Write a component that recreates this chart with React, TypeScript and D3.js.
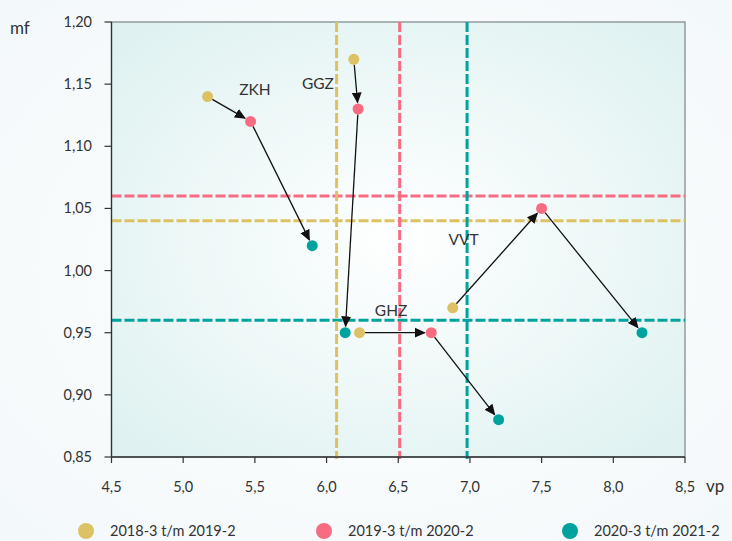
import React from "react";
import * as d3 from "d3";

const sectors = ["ZKH", "GGZ", "GHZ", "VVT"];
const periods = ["2018-3 t/m 2019-2", "2019-3 t/m 2020-2", "2020-3 t/m 2021-2"];
const colors = ["#dcc265", "#f86c83", "#00a29d"];
// vp values per period, in sector order
const vp2019 = [5.17, 6.19, 6.23, 6.88];
const vp2020 = [5.47, 6.22, 6.73, 7.5];
const vp2021 = [5.9, 6.13, 7.2, 8.2];
// mf values per period
const mf2019 = [1.14, 1.17, 0.95, 0.97];
const mf2020 = [1.12, 1.13, 0.95, 1.05];
const mf2021 = [1.02, 0.95, 0.88, 0.95];
// reference (average) lines per period
const refVp = [6.07, 6.51, 6.98];
const refMf = [1.04, 1.06, 0.96];
// label anchor positions (data coords)
const labelVp = [5.5, 5.94, 6.45, 6.955];
const labelMf = [1.141, 1.146, 0.9634, 1.0206];
const xTicks = [4.5, 5.0, 5.5, 6.0, 6.5, 7.0, 7.5, 8.0, 8.5];
const yTicks = [0.85, 0.9, 0.95, 1.0, 1.05, 1.1, 1.15, 1.2];

const W = 732, H = 541;
const L = 111.5, R = 685, T = 22, B = 457;
const FONT = "Lato, 'Open Sans', sans-serif";

export default function App() {
  const x = d3.scaleLinear().domain([4.5, 8.5]).range([L, R]);
  const y = d3.scaleLinear().domain([0.85, 1.2]).range([B, T]);
  const fmt = (v: number, d: number) => v.toFixed(d).replace(".", ",");
  const vps = [vp2019, vp2020, vp2021];
  const mfs = [mf2019, mf2020, mf2021];
  const r = 5.5;

  const arrows: any[] = [];
  sectors.forEach((s, i) => {
    for (let p = 0; p < 2; p++) {
      const x1 = x(vps[p][i]), y1 = y(mfs[p][i]);
      const x2 = x(vps[p + 1][i]), y2 = y(mfs[p + 1][i]);
      const dx = x2 - x1, dy = y2 - y1;
      const len = Math.hypot(dx, dy);
      const ux = dx / len, uy = dy / len;
      arrows.push(
        <line key={s + p} x1={x1 + ux * r} y1={y1 + uy * r} x2={x2 - ux * (r + 1)} y2={y2 - uy * (r + 1)}
          stroke="#111" strokeWidth={1.3} markerEnd="url(#arr)" />
      );
    }
  });

  return (
    <svg width={W} height={H} style={{ display: "block", position: "absolute", left: 0, top: 0, background: "#f4f9fa" }}>
      <defs>
        <radialGradient id="bg" cx="50%" cy="50%" r="65%">
          <stop offset="0%" stopColor="#ffffff" />
          <stop offset="100%" stopColor="#dff2f1" />
        </radialGradient>
        <radialGradient id="page" cx="50%" cy="50%" r="70%">
          <stop offset="0%" stopColor="#ffffff" />
          <stop offset="100%" stopColor="#f3f8fa" />
        </radialGradient>
        <marker id="arr" viewBox="0 0 10 10" refX="9" refY="5" markerWidth="11" markerHeight="11" markerUnits="userSpaceOnUse" orient="auto">
          <path d="M0,0.5 L10,5 L0,9.5 Z" fill="#111" />
        </marker>
      </defs>
      <rect x={0} y={0} width={W} height={H} fill="url(#page)" />
      <rect x={L} y={T} width={R - L} height={B - T} fill="url(#bg)" stroke="#7b8585" strokeWidth={1.2} />

      {/* reference lines */}
      {refMf.map((v, i) => (
        <line key={"h" + i} x1={L} x2={R} y1={y(v)} y2={y(v)} stroke={colors[i]} strokeWidth={3} strokeDasharray="10,3" />
      ))}
      {refVp.map((v, i) => (
        <line key={"v" + i} x1={x(v)} x2={x(v)} y1={T} y2={B + 2} stroke={colors[i]} strokeWidth={3} strokeDasharray="10,3" />
      ))}

      {/* axes */}
      <line x1={L} x2={L} y1={T} y2={B} stroke="#333" strokeWidth={1.3} />
      <line x1={L} x2={R} y1={B} y2={B} stroke="#333" strokeWidth={1.3} />
      {yTicks.map(t => (
        <g key={"yt" + t}>
          <line x1={L - 7} x2={L} y1={y(t)} y2={y(t)} stroke="#333" strokeWidth={1.2} />
          <text x={92} y={y(t) + 5} textAnchor="end" fontSize={14.5} fill="#333" fontFamily={FONT}>{fmt(t, 2)}</text>
        </g>
      ))}
      {xTicks.map(t => (
        <g key={"xt" + t}>
          <line x1={x(t)} x2={x(t)} y1={B} y2={B + 6} stroke="#333" strokeWidth={1.2} />
          <text x={x(t)} y={492} textAnchor="middle" fontSize={14.5} fill="#333" fontFamily={FONT}>{fmt(t, 1)}</text>
        </g>
      ))}
      <text x={10} y={34} fontSize={17} fill="#333" fontFamily={FONT}>mf</text>
      <text x={706} y={492} fontSize={17} fill="#333" fontFamily={FONT}>vp</text>

      {arrows}

      {/* points */}
      {vps.map((arr, p) => arr.map((v, i) => (
        <circle key={"c" + p + i} cx={x(v)} cy={y(mfs[p][i])} r={r} fill={colors[p]} />
      )))}

      {/* sector labels */}
      {sectors.map((s, i) => (
        <text key={"l" + s} x={x(labelVp[i])} y={y(labelMf[i])} textAnchor="middle" fontSize={15.5} fill="#333" fontFamily={FONT}>{s}</text>
      ))}

      {/* legend */}
      {periods.map((p, i) => {
        const cx = [86, 324, 570][i];
        return (
          <g key={"lg" + i}>
            <circle cx={cx} cy={531} r={8} fill={colors[i]} />
            <text x={cx + 24} y={536} fontSize={14.5} fill="#333" fontFamily={FONT}>{p}</text>
          </g>
        );
      })}
    </svg>
  );
}
